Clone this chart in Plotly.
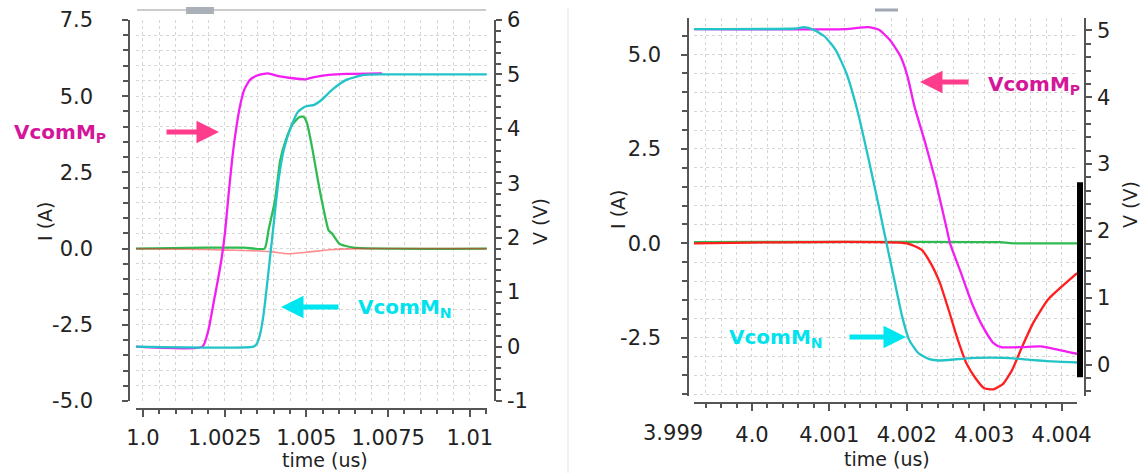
import plotly.graph_objects as go

# ---------------- data: left panel (turn-on, around 1.0 us) ----------------
left_mp_t = [0.99978, 1.00182, 1.002, 1.00218, 1.0023, 1.0024, 1.00251, 1.00262, 1.00273, 1.00285,
             1.00298, 1.0031, 1.00327, 1.00349, 1.00382, 1.00415, 1.00459, 1.00497, 1.00524, 1.00568,
             1.00622, 1.00731]
left_mp_v = [0, 0, 0.3, 0.87, 1.25, 1.6, 2.1, 2.8, 3.45, 4.0,
             4.45, 4.72, 4.9, 4.98, 5.02, 4.97, 4.93, 4.91, 4.95, 4.99,
             5.01, 5.02]

left_mn_t = [0.99978, 1.00338, 1.00348, 1.00358, 1.00368, 1.00378, 1.00388, 1.00398, 1.00415, 1.00431,
             1.00453, 1.00475, 1.00497, 1.00524, 1.00546, 1.00579, 1.00622, 1.00677, 1.00731, 1.01052]
left_mn_v = [0, 0, 0.05, 0.22, 0.55, 1.05, 1.6, 2.15, 3.07, 3.62,
             4.04, 4.32, 4.41, 4.44, 4.53, 4.72, 4.90, 4.99, 5.0, 5.0]

left_green_t = [0.99978, 1.0019, 1.0031, 1.00372, 1.00384, 1.00404, 1.0042, 1.00437, 1.00459, 1.00478,
                1.00491, 1.00502, 1.00519, 1.00535, 1.00551, 1.00568, 1.00579, 1.00601, 1.00644, 1.01052]
left_green_i = [0, 0.03, 0.03, 0, 0.6, 1.59, 2.9, 3.56, 4.1, 4.31,
                4.33, 4.11, 3.23, 2.25, 1.37, 0.6, 0.49, 0.16, 0.03, 0]

left_red_t = [0.99978, 1.0019, 1.0025, 1.0031, 1.0039, 1.00442, 1.005, 1.0057, 1.0066, 1.01052]
left_red_i = [0, -0.03, -0.05, -0.06, -0.1, -0.17, -0.12, -0.04, 0, 0]

left_xticks = [1.0, 1.0025, 1.005, 1.0075, 1.01]
left_xtext = ["1.0", "1.0025", "1.005", "1.0075", "1.01"]
left_iticks = [7.5, 5.0, 2.5, 0.0, -2.5, -5.0]
left_itext = ["7.5", "5.0", "2.5", "0.0", "-2.5", "-5.0"]
left_vticks = [6, 5, 4, 3, 2, 1, 0, -1]
left_vtext = ["6", "5", "4", "3", "2", "1", "0", "-1"]

# ---------------- data: right panel (turn-off, around 4.0 us) ----------------
right_mn_t = [3.99925, 4.00057, 4.00067, 4.0008, 4.00094, 4.00108, 4.00122, 4.00136, 4.0015, 4.00164,
              4.00173, 4.00184, 4.00194, 4.00203, 4.00215, 4.00229, 4.00242, 4.00266, 4.00289, 4.00326,
              4.00359, 4.00382, 4.0042]
right_mn_v = [5.02, 5.03, 5.05, 5.01, 4.91, 4.71, 4.36, 3.81, 3.11, 2.36,
              1.86, 1.26, 0.72, 0.37, 0.17, 0.08, 0.06, 0.08, 0.10, 0.10,
              0.07, 0.05, 0.03]

right_mp_t = [3.99925, 4.0012, 4.0015, 4.00164, 4.00178, 4.00192, 4.00201, 4.0021, 4.00224, 4.00238,
              4.00252, 4.00256, 4.0027, 4.00284, 4.00298, 4.00312, 4.00322, 4.00349, 4.00373, 4.00396, 4.0042]
right_mp_v = [5.02, 5.02, 5.05, 5.01, 4.86, 4.61, 4.31, 3.86, 3.31, 2.71,
              2.01, 1.81, 1.37, 0.92, 0.57, 0.32, 0.26, 0.26, 0.27, 0.22, 0.16]

right_red_t = [3.99925, 4.002, 4.00219, 4.00231, 4.00243, 4.00254, 4.00266, 4.00277, 4.00289, 4.003,
               4.00312, 4.00324, 4.00336, 4.00349, 4.00363, 4.00382, 4.004, 4.0042]
right_red_i = [0, 0, -0.17, -0.53, -1.06, -1.76, -2.56, -3.18, -3.58, -3.84,
               -3.87, -3.73, -3.36, -2.74, -2.12, -1.5, -1.15, -0.79]

right_green_t = [3.99925, 4.0032, 4.0034, 4.0042]
right_green_i = [0.03, 0.03, 0.0, 0.0]

right_xticks = [4.0, 4.001, 4.002, 4.003, 4.004]
right_xtext = ["4.0", "4.001", "4.002", "4.003", "4.004"]
right_iticks = [5.0, 2.5, 0.0, -2.5]
right_itext = ["5.0", "2.5", "0.0", "-2.5"]
right_vticks = [5, 4, 3, 2, 1, 0]
right_vtext = ["5", "4", "3", "2", "1", "0"]

# ---------------- layout helpers ----------------
W, H = 1144, 473
def px(x):
    return x / W
def py(y):
    return 1 - y / H

MAGENTA = "#f21ef2"
CYAN = "#22c4c8"
GREEN = "#2fbb52"
RED = "#ff1e1e"
TXT_MAG = "#d4169a"
TXT_CYAN = "#00e3ee"
ARR_PINK = "#ff3c8c"
ARR_CYAN = "#00e6f0"
FONT = "DejaVu Sans, Liberation Sans, Arial, sans-serif"
AXC = "#555555"
GRID = "#d6d6d6"

fig = go.Figure()

def line(t, v, color, xa, ya, width=2.3, opacity=1.0):
    fig.add_trace(go.Scatter(x=t, y=v, mode="lines", xaxis=xa, yaxis=ya, opacity=opacity,
                             line=dict(color=color, width=width, shape="spline", smoothing=0.5),
                             showlegend=False, hoverinfo="skip"))

# left panel
line(left_green_t, left_green_i, GREEN, "x", "y")
line(left_red_t, left_red_i, RED, "x", "y", width=1.6, opacity=0.5)
line(left_mp_t, left_mp_v, MAGENTA, "x", "y2")
line(left_mn_t, left_mn_v, CYAN, "x", "y2")
# right panel
line(right_green_t, right_green_i, GREEN, "x2", "y3")
line(right_red_t, right_red_i, RED, "x2", "y3")
line(right_mp_t, right_mp_v, MAGENTA, "x2", "y4")
line(right_mn_t, right_mn_v, CYAN, "x2", "y4")

tickfont = dict(family=FONT, size=21, color="#222222")

def xax(domain, rng, pos, tv, tt, minor_dt, tick0, standoff):
    return dict(domain=domain, range=rng, anchor="free", position=pos,
                tickmode="array", tickvals=tv, ticktext=tt, ticks="outside", ticklen=7,
                tickcolor=AXC, tickwidth=1.5, showline=True, linecolor=AXC, linewidth=1.5,
                showgrid=True, gridcolor=GRID, griddash="dot", gridwidth=1,
                minor=dict(dtick=minor_dt, tick0=tick0, ticks="outside", ticklen=4,
                           tickcolor=AXC, showgrid=True, gridcolor=GRID, griddash="dot"),
                tickfont=tickfont, zeroline=False, ticklabelstandoff=standoff, fixedrange=True)

def yax(domain, rng, pos, tv, tt, minor_dt, side, standoff, grid, overlaying=None):
    d = dict(range=rng, anchor="free", position=pos, side=side,
             tickmode="array", tickvals=tv, ticktext=tt, ticks="outside", ticklen=6,
             tickcolor=AXC, tickwidth=1.5, showline=True, linecolor=AXC, linewidth=1.5,
             showgrid=grid, gridcolor=GRID, griddash="dot", gridwidth=1,
             minor=dict(dtick=minor_dt, tick0=0, ticks="outside", ticklen=5,
                        tickcolor=AXC, showgrid=grid, gridcolor=GRID, griddash="dot"),
             tickfont=tickfont, zeroline=False, ticklabelstandoff=standoff, fixedrange=True)
    if overlaying:
        d["overlaying"] = overlaying
    else:
        d["domain"] = domain
    return d

ldom_x = [px(136), px(487)]
ldom_y = [py(401), py(20)]
rdom_x = [px(694), px(1077)]
rdom_y = [py(396), py(18)]

fig.update_layout(
    width=W, height=H, margin=dict(l=0, r=0, t=0, b=0, autoexpand=False),
    paper_bgcolor="white", plot_bgcolor="white", showlegend=False,
    xaxis=xax(ldom_x, [0.999786, 1.010526], py(409), left_xticks, left_xtext, 0.0005, 1.0, 3),
    yaxis=yax(ldom_y, [-5.0, 7.5], px(129), left_iticks, left_itext, 0.5, "left", 25, True),
    yaxis2=yax(None, [-1.0, 6.0], px(495), left_vticks, left_vtext, 0.2, "right", 1, False, overlaying="y"),
    xaxis2=xax(rdom_x, [3.999251, 4.004199], py(403), right_xticks, right_xtext, 0.0002, 4.0, 6),
    yaxis3=yax(rdom_y, [-4.045, 5.968], px(688), right_iticks, right_itext, 0.5, "left", 16, True),
    yaxis4=yax(None, [-0.4716, 5.187], px(1085), right_vticks, right_vtext, 0.2, "right", 1, False, overlaying="y3"),
)

ann = []
def text(x, y, s, size=20, color="#222222", angle=0, bold=False):
    ann.append(dict(x=px(x), y=py(y), xref="paper", yref="paper", text=s, showarrow=False,
                    textangle=angle, xanchor="center", yanchor="middle",
                    font=dict(family=FONT, size=size, color=color,
                              weight="bold" if bold else "normal")))

def arrow(x0, y0, x1, y1, color):
    ann.append(dict(x=px(x1), y=py(y1), xref="paper", yref="paper", text="",
                    showarrow=True, ax=x0 - x1, ay=y0 - y1, axref="pixel", ayref="pixel",
                    arrowhead=2, arrowsize=0.9, arrowwidth=5, arrowcolor=color, standoff=0))

# axis titles
text(325, 460, "time (us)", size=19)
text(887, 459, "time (us)", size=19)
text(45, 222, "I (A)", size=19, angle=-90)
text(618, 210, "I (A)", size=19, angle=-90)
text(540, 222, "V (V)", size=19, angle=-90)
text(1130, 205, "V (V)", size=19, angle=-90)
# out-of-range tick label on right panel
text(673, 433, "3.999", size=21)

# signal labels
text(60, 133, "VcomM<sub>P</sub>", size=20, color=TXT_MAG, bold=True)
arrow(165, 132, 219, 132, ARR_PINK)
text(405, 308, "VcomM<sub>N</sub>", size=20, color=TXT_CYAN, bold=True)
arrow(340, 307, 281, 307, ARR_CYAN)
text(1034, 85, "VcomM<sub>P</sub>", size=20, color=TXT_MAG, bold=True)
arrow(970, 82, 920, 82, ARR_PINK)
text(776, 338, "VcomM<sub>N</sub>", size=20, color=TXT_CYAN, bold=True)
arrow(848, 337, 906, 337, ARR_CYAN)

fig.update_layout(annotations=ann)

shapes = [
    # top decorations
    dict(type="line", xref="paper", yref="paper", x0=px(137), x1=px(486), y0=py(10), y1=py(10),
         line=dict(color="#cccccc", width=2)),
    dict(type="rect", xref="paper", yref="paper", x0=px(186), x1=px(214), y0=py(14), y1=py(7),
         fillcolor="#a9b0b8", line=dict(width=0)),
    dict(type="line", xref="paper", yref="paper", x0=px(875), x1=px(898), y0=py(10), y1=py(10),
         line=dict(color="#a0a8b4", width=3)),
    # panel separator
    dict(type="line", xref="paper", yref="paper", x0=px(568), x1=px(568), y0=py(8), y1=0,
         line=dict(color="#eeeeee", width=1.5)),
    # black marker bar on the right V axis
    dict(type="line", xref="paper", yref="y4", x0=px(1080), x1=px(1080), y0=-0.19, y1=2.73,
         line=dict(color="black", width=6)),
]
fig.update_layout(shapes=shapes)

fig.write_html("out.html", config={"displayModeBar": False},
               post_script="document.body.style.margin='0';document.body.style.overflow='hidden';")
